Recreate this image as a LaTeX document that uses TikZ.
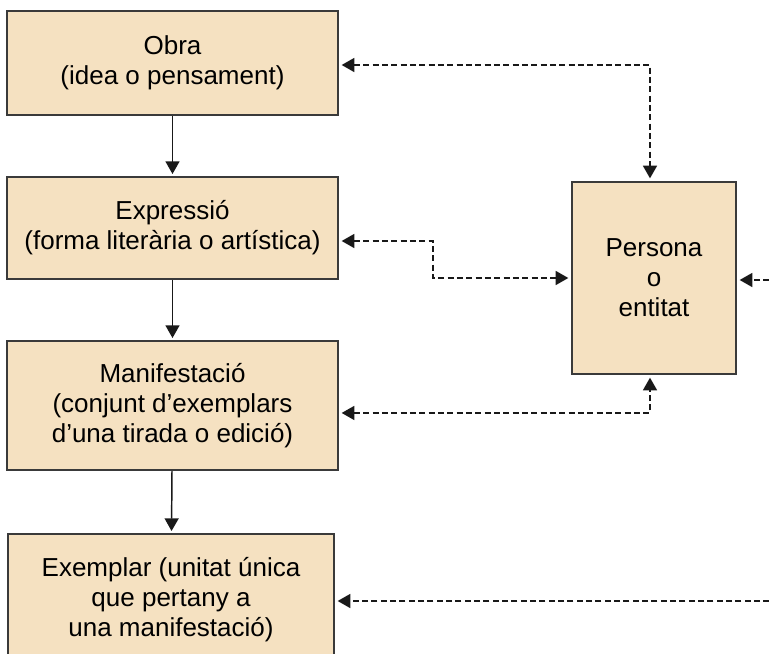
\documentclass[tikz,border=0pt]{standalone}
\usepackage{fontspec}
\setmainfont{Liberation Sans}
\usetikzlibrary{arrows.meta}
\definecolor{boxfill}{RGB}{245,225,193}
\definecolor{boxline}{RGB}{58,58,58}

\begin{document}
\begin{tikzpicture}[x=0.75pt, y=-0.75pt,
		caixa/.style={draw=boxline, fill=boxfill, line width=1.5pt, align=center, inner sep=0pt,
			font=\fontsize{19.5}{22.5}\selectfont},
		fletxa/.style={line width=1.1pt, color=black!90, -{Triangle[length=9.5pt,width=10.5pt]}, shorten >=1.5pt},
		discont/.style={line width=1.1pt, color=black!90, dash pattern=on 4.5pt off 2.5pt,
			shorten >=2pt, shorten <=2pt}]
		%%%%% START %%%%%
		
		\useasboundingbox (0, 0) rectangle (769, 654);
		\clip (0, 0) rectangle (769, 654);
		
		\node[caixa, minimum width=248.25pt, minimum height=78pt] (obra) at (172.5, 63) {Obra\\(idea o pensament)};
		\node[caixa, minimum width=248.25pt, minimum height=76.5pt] (expressio) at (172.5, 228) {Expressió\\(forma literària o artística)};
		\node[caixa, minimum width=248.25pt, minimum height=96.75pt] (manifestacio) at (172.5, 405.5) {Manifestació\\(conjunt d’exemplars\\d’una tirada o edició)};
		\node[caixa, minimum width=244.5pt, minimum height=99pt] (exemplar) at (171, 600) {Exemplar (unitat única\\que pertany a\\una manifestació)};
		
		\node[caixa, minimum width=123pt, minimum height=144pt] (persona) at (654, 278) {Persona\\o\\entitat};
		
		\draw[fletxa] (obra) -- (expressio);
		\draw[fletxa] (expressio) -- (manifestacio);
		\draw[fletxa] (manifestacio) -- (exemplar);
		
		\coordinate (dreta1) at (772, 280);
		\coordinate (dreta2) at (772, 601);
		
		\draw[discont, {Triangle[length=9.5pt,width=10.5pt]}-{Triangle[length=9.5pt,width=10.5pt]}] ([yshift=-1.5pt]obra.east) -| ([xshift=-3pt]persona.north);
		\draw[discont, {Triangle[length=9.5pt,width=10.5pt]}-{Triangle[length=9.5pt,width=10.5pt]}] ([yshift=-9.75pt]expressio.east) -- ++(94, 0) |- (persona.west);
		\draw[discont, {Triangle[length=9.5pt,width=10.5pt]}-{Triangle[length=9.5pt,width=10.5pt]}] ([yshift=-5.6pt]manifestacio.east) -| ([xshift=-3pt]persona.south);
		\draw[discont, -{Triangle[length=9.5pt,width=10.5pt]}] (dreta1) -- (dreta1 -| persona.east);
		\draw[discont, -{Triangle[length=9.5pt,width=10.5pt]}] (dreta2) -- (dreta2 -| exemplar.east);
		
		%%%%% END %%%%%
	\end{tikzpicture}
\end{document}
